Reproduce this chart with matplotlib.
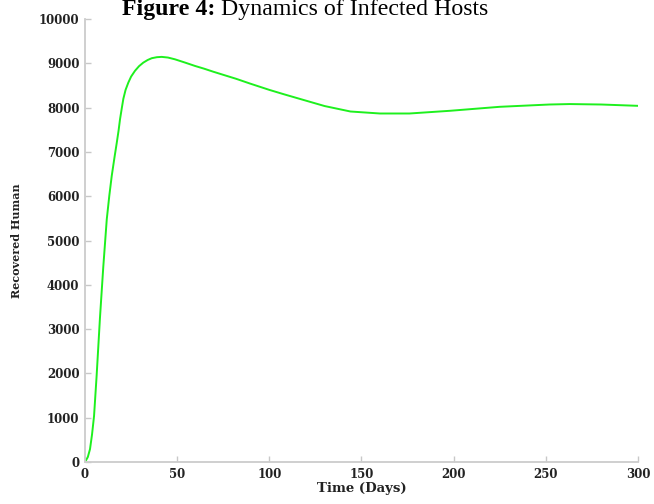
import numpy as np
import matplotlib
matplotlib.use("Agg")
import matplotlib.pyplot as plt

# recovered humans over time (days)
days = [0, 1.5, 2.7, 3.8, 4.9, 6.3, 8.1, 9.9, 11.8, 13.2, 14.5, 16, 17.2, 18.2, 19,
        20, 20.8, 22, 23.5, 25, 27.1, 29.3, 31.6, 34, 36.2, 39, 41.6, 45, 48.8,
        54, 59.7, 64.5, 69.6, 75, 82, 89.5, 100, 108, 116.7, 130, 144, 160,
        176, 198, 225, 252, 263, 280, 300]
recovered = [0, 110, 290, 620, 1040, 1950, 3250, 4400, 5480, 6020, 6460, 6880, 7200,
             7480, 7740, 8000, 8200, 8400, 8565, 8700, 8830, 8935, 9015, 9075, 9115,
             9138, 9145, 9130, 9090, 9020, 8940, 8880, 8810, 8740, 8650, 8543, 8400,
             8300, 8195, 8035, 7912, 7867, 7867, 7928, 8018, 8070, 8080, 8070, 8040]

x_ticks = [0, 50, 100, 150, 200, 250, 300]
y_ticks = list(range(0, 10001, 1000))

fig = plt.figure(figsize=(6.54, 5.04), dpi=100)
ax = fig.add_axes([0.130, 0.0833, 0.8455, 0.879])

ax.plot(days, recovered, color="#1ef01e", lw=1.4, solid_capstyle="round",
        solid_joinstyle="round")

ax.set_xlim(0, 300)
ax.set_ylim(0, 10000)
ax.set_xticks(x_ticks)
ax.set_yticks(y_ticks)

tick_font = dict(family="DejaVu Serif", weight="bold", size=8.5)
ax.set_xticklabels([str(v) for v in x_ticks], fontdict=tick_font)
ax.set_yticklabels([str(v) for v in y_ticks], fontdict=tick_font)
ax.tick_params(direction="in", length=4, width=1, color="#c8c8c8",
               labelcolor="#222222", pad=4)

for side in ("top", "right"):
    ax.spines[side].set_visible(False)
for side in ("left", "bottom"):
    ax.spines[side].set_color("#cccccc")
    ax.spines[side].set_linewidth(1.3)

ax.set_xlabel("Time (Days)", family="DejaVu Serif", weight="bold", size=9.5,
              color="#222222", labelpad=1)
ax.set_ylabel("Recovered Human", family="DejaVu Serif", weight="bold", size=8,
              color="#222222", labelpad=12)

# title: bold prefix followed by regular text
t1 = fig.text(0.1865, 0.970, "Figure 4:", family="Liberation Serif",
              weight="bold", size=17.2, va="baseline", ha="left")
ax.annotate(" Dynamics of Infected Hosts", xy=(1, 0), xycoords=t1,
            family="Liberation Serif", size=17.2, va="bottom", ha="left",
            annotation_clip=False)

fig.savefig("out.png", dpi=100)
